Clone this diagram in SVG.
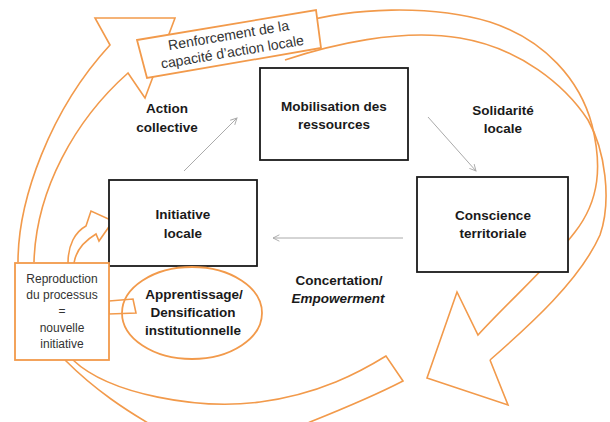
<svg xmlns="http://www.w3.org/2000/svg" width="610" height="422" viewBox="0 0 610 422">
<defs>
<style>
.or{fill:none;stroke:#F29A4B;stroke-width:1.6;stroke-linejoin:miter}
.orw{fill:#fff;stroke:#F29A4B;stroke-width:1.8}
.box{fill:#fff;stroke:#1a1a1a;stroke-width:1.8}
.con{fill:none;stroke:#aaaaaa;stroke-width:1;marker-end:url(#ah)}
.b{font-family:"Liberation Sans",Arial,sans-serif;font-weight:bold;font-size:13.5px;fill:#1a1a1a;text-anchor:middle}
.r{font-family:"Liberation Sans",Arial,sans-serif;font-size:12px;fill:#333;text-anchor:middle}
</style>
<marker id="ah" viewBox="0 0 10 10" refX="9" refY="5" markerWidth="8" markerHeight="8" orient="auto" markerUnits="userSpaceOnUse">
<path d="M1,1 L9,5 L1,9" fill="none" stroke="#aaaaaa" stroke-width="1.2"/>
</marker>
</defs>
<rect width="610" height="422" fill="#fff"/>
<g id="loops">
<path class="or" d="M18,262 C18,200 50,110 110,45 L95,18 L175,18 L145,98 L128,73 C75,120 36,190 34,262"/>
<path class="or" d="M300,23 C350,8 430,4 490,22 C545,40 580,80 592,125 C602,165 600,200 575,232 C550,265 510,300 478,335 L457,292 L427,378 L508,405 L490,360"/>
<path class="or" d="M285,60 C330,45 400,28 460,38 C520,48 565,85 588,120 C605,150 612,200 600,235 C580,280 530,325 490,360"/>
<path class="or" d="M73,360 C110,395 200,410 260,402 C320,394 360,372 386,356 L403,381 C370,398 340,410 310,422 L290,432"/>
<path class="or" d="M65,360 C95,390 125,410 160,430"/>
<path class="or" d="M68,263 C68,245 75,232 86,226 L91,211 L113,221 L99,241 L96,234 C86,240 76,250 74,263"/>
</g>
<g id="renforcement">
<polygon class="orw" points="137,40 316,10 321,48 147,78"/>
<g transform="rotate(-9.5 230 44)">
<text class="r" style="font-size:14px" x="230" y="40">Renforcement de la</text>
<text class="r" style="font-size:14px" x="231" y="57">capacité d’action locale</text>
</g>
</g>
<g id="connectors">
<line class="con" x1="184" y1="171" x2="237" y2="118"/>
<line class="con" x1="428" y1="117" x2="476" y2="171"/>
<line class="con" x1="403" y1="238" x2="273" y2="238"/>
</g>
<g id="mobilisation">
<rect class="box" x="260" y="68" width="148" height="92"/>
<text class="b" x="334" y="111">Mobilisation des</text>
<text class="b" x="334" y="129">ressources</text>
</g>
<g id="conscience">
<rect class="box" x="417" y="177" width="151" height="95"/>
<text class="b" x="493" y="220">Conscience</text>
<text class="b" x="493" y="238">territoriale</text>
</g>
<g id="initiative">
<rect class="box" x="109" y="180" width="148" height="86"/>
<text class="b" x="183" y="219">Initiative</text>
<text class="b" x="183" y="238">locale</text>
</g>
<g id="apprentissage">
<ellipse class="or" style="stroke-width:1.8" cx="192" cy="313" rx="70" ry="46"/>
<polygon class="or" points="109,301 133,299 136,313 109,314"/>
<text class="b" x="194" y="299">Apprentissage/</text>
<text class="b" x="193" y="317">Densification</text>
<text class="b" x="193" y="335">institutionnelle</text>
</g>
<g id="reproduction">
<rect class="orw" x="15" y="263" width="94" height="97"/>
<text class="r" x="62" y="283">Reproduction</text>
<text class="r" x="62" y="299">du processus</text>
<text class="r" x="62" y="315">=</text>
<text class="r" x="62" y="332">nouvelle</text>
<text class="r" x="62" y="348">initiative</text>
</g>
<g id="labels">
<text class="b" x="167" y="113">Action</text>
<text class="b" x="167" y="132">collective</text>
<text class="b" x="503" y="115">Solidarité</text>
<text class="b" x="503" y="133">locale</text>
<text class="b" x="339" y="285">Concertation/</text>
<text class="b" x="338" y="303" font-style="italic">Empowerment</text>
</g>
</svg>
